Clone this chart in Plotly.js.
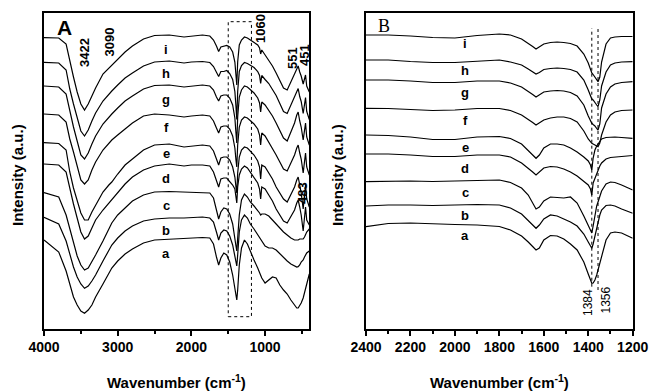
<!DOCTYPE html>
<html><head><meta charset="utf-8">
<script src="https://cdn.plot.ly/plotly-3.0.1.min.js"></script>
<style>html,body{margin:0;padding:0;background:#fff}#chart{width:650px;height:392px}</style>
</head><body><div id="chart"></div>
<script>
// ---------- Panel A: wavenumber grid (cm-1) ----------
const wnA = [4000,3800,3700,3650,3600,3550,3500,3450,3400,3350,3300,3200,3120,3080,3000,2900,2800,2650,2500,2300,2100,2000,1850,
  1750,1700,1660,1630,1600,1560,1520,1480,1440,1410,1395,1384,1372,1350,1320,1280,1240,1200,1150,1100,1075,1060,1045,1000,950,900,850,800,750,700,650,600,570,551,530,510,483,465,451,435,400];
// intensities (a.u., stacked with offset)
const specA_i = [292.3,292,286,268,253,238,226,220,226,234,242,256,262,265,271,278,284,291,294.5,295,293,294,295,294,290,284,278.5,283,284,284.5,283,278,268,255,245,268,285,290,293,292,290,288,285,282,276,280,275,270,264,257,250,242,240,248,257,262,264,258,254,246,251,255,244,238];
const specA_h = [267.7,267,260,241,226,212,199,194,200,209,217,229,236,239,245,252,257,264,268,269,267,268,268.5,267.5,263.5,257.5,253.5,258.5,258.5,259.5,256.5,250.5,238.5,223.5,210.5,238.5,258.5,264.5,267.5,266.5,264.5,262.5,258.5,254.5,246.5,254.5,250.5,246.5,240.5,234.5,226.5,218.5,216.5,224.5,232.5,238.5,241.5,233.5,228.5,216.5,226.5,232.5,218.5,210.5];
const specA_g = [244,243,236,218,203,189,175,171,177,186,194,206,213,216,222,229,234,241,244.5,245,243,244,245,244,240,233,229,234,235,235,232,225,212,197,187,213,233,240,244,243,240,237,232,227,218,228,225,220,214,207,200,192,189,198,207,215,218,209,203,190,201,207,193,185];
const specA_f = [216,215,208,191,178,165,150,146,150,160,168,180,187,190,195,201,207,214,216,215,213,214,215,214,209,202,197,203,204,204,201,194,182,170,163,185,203,210,213,212,209,206,201,195,185,197,194,188,182,175,168,161,159,167,175,182,185,177,171,157,170,177,163,155];
const specA_e = [187.3,186.5,180,158,142,129,117,110,110,118,125,138,145,148,156,165,171,180,185,186,183,184,185,184,179,171,165,172,173,173,170,163,153,143,137,157,173,180,183,182,179,175,169,163,151,165,163,157,151,143,137,131,128,135,143,150,153,145,137,121,137,145,131,123];
const specA_d = [166,165,158,141,126,112,98,91,94,102,110,120,127,130,138,146,153,160,164,166,164,165,165,164,158,150,143,151,152,152,149,145,141,133,127,143,155,161,164,162,158,153,147,141,131,143,141,135,129,121,115,109,107,113,120,127,130,123,115,99,115,123,110,105];
const specA_c = [137.3,133,115,102,87,74,65,60,62,68,75,89,101,107,115,122,129,135,138,138.5,138,138,138,137,132,120,111,118,122,121,116,106,94,84,79,90,115,130,136,133,128,124,120,117,115,116,116,114,110,106,101,98,95,92,90,90,90,91,91,91,93,96,98,101];
const specA_b = [112.7,106,89,76,63,53,46,41.7,44,49,55,69,79,85,92,99,104,109,111,112,112,112.5,113,112,108,98,90,97,100,99,94,85,75,67,64,75,98,110,115,112,106,101,95,92,90,89,84,82,82,80,76,72,69,66,64,63,63.3,65,68,70,73,75,77,79];
const specA_a = [90,78,59,46,33,25,19,16.7,20,25,33,46,57,62,69,76,81,87,90,91,92,92,92.5,92,86,73,65,72,77,75,68,55,42,33,30,40,65,82,90,86,78,70,62,58,55,52,47,50,53,52,45,40,36,30,25,22,22,24,27,32,37,41,45,56];

// ---------- Panel B ----------
const wnB = [2400,2300,2200,2100,2000,1900,1800,1750,1700,1670,1650,1635,1620,1600,1570,1540,1510,1480,1450,1420,1400,1390,1384,1378,1370,1362,1356,1348,1340,1320,1300,1280,1250,1200];
const specB_i = [295,295,294,292.5,292,294.5,296,295,291,287,283.5,281,283,286,287.5,288,287.5,286.5,284,276,267,260,257,255.5,253,250,248.3,253,268,286,292,293,293.5,293.5];
const specB_h = [270,270,268.5,267.5,267.5,269,270,268,265,261,258,256,257.5,260.5,261.5,262,261.5,260.5,258,250,240,234,231,230,228,225,223.3,230,244,258,265,267,268,268.3];
const specB_g = [250,250,249,247.5,247.5,249,249,247,243,239,235.5,233,235,238,239,239.5,239,237.5,234,225,214,209,206.7,205.5,204,201.5,200,206,222,236,243,246,247.5,248.3];
const specB_f = [221.7,221.5,220.5,219.5,220,221.5,221.5,219.5,215,211,207.5,205,207,210,212,213,213,211.5,208,199,191,188,186.7,186,185,184,183.3,187,195,208,215,218,219.5,220];
const specB_e = [195,194.5,193,190.5,190.5,193,193.5,191.5,186,180,175,171.7,175,182,186,186,185,182,178,173,169,165,160,172,180,184,186,189,191,192.5,193,193,192.5,191.7];
const specB_d = [176,176,175,173.5,173.5,175,175,173,167,162,158,155,158,162,163.5,163,161,158,154,149,145,141,135,147,152,157,160,164,167,171,172.5,173,174,174.5];
const specB_c = [148.3,149,149,148.5,149,150,150,147.5,142,135,127,121,123,129,133,132.5,132,133,127,114,105,100,97,104,116,124,128,134,139,146,148,147.5,145,140];
const specB_b = [124,125,125,124.5,125,125.5,125,122,116,110,105,101.7,105,111,115,114,111,108,104,96,88,84,81.7,86,94,102,108,115,120,124.5,125,124,121,116.7];
const specB_a = [103.3,106.5,107,106,105.5,105,103.5,100,94,88,83,80,82,90,94.5,94,91,86,80,68,56,50,46.7,47,50,55,60,68,76,90,97,98,97,91.7];

const curveNames = ['a','b','c','d','e','f','g','h','i'];
const specA = {a:specA_a,b:specA_b,c:specA_c,d:specA_d,e:specA_e,f:specA_f,g:specA_g,h:specA_h,i:specA_i};
const specB = {a:specB_a,b:specB_b,c:specB_c,d:specB_d,e:specB_e,f:specB_f,g:specB_g,h:specB_h,i:specB_i};

const FONT = 'Liberation Sans, Arial, Helvetica, sans-serif';
const traces = [];
curveNames.forEach(n => {
  traces.push({x: wnA, y: specA[n], xaxis:'x', yaxis:'y', mode:'lines', name:n,
    line:{color:'#000', width:1.2}, showlegend:false, hoverinfo:'skip'});
  traces.push({x: wnB, y: specB[n], xaxis:'x2', yaxis:'y2', mode:'lines', name:n,
    line:{color:'#000', width:1.2}, showlegend:false, hoverinfo:'skip'});
});

const W = 650, H = 392;
const px = v => v / W, py = v => 1 - v / H;
const ydom = [py(328.5), py(12.5)];

function ann(text, x, y, size, opts) {
  return Object.assign({text, x: px(x), y: py(y), xref:'paper', yref:'paper', showarrow:false,
    xanchor:'center', yanchor:'middle', font:{family:FONT, size, color:'#000'}}, opts || {});
}

const labA = {i:50, h:74, g:100, f:127, e:154, d:178, c:205, b:230, a:253};
const labB = {i:43, h:70, g:92, f:120, e:147, d:168, c:192, b:215, a:235};
const annotations = [];
curveNames.forEach(n => {
  annotations.push(ann('<b>'+n+'</b>', 166, labA[n], 13));
  annotations.push(ann('<b>'+n+'</b>', 465, labB[n], 13));
});
annotations.push(ann('<b>A</b>', 64.5, 27.5, 21));
annotations.push(ann('B', 384, 26, 18, {font:{family:'Liberation Serif, Times New Roman, serif', size:18, color:'#000'}}));
[['3422',84,53],['3090',109,42.5],['1060',260,29],['551',292,58],['451',305,55],['483',302,193]].forEach(t => {
  annotations.push(ann('<b>'+t[0]+'</b>', t[1], t[2], 13, {textangle:-90}));
});
annotations.push(ann('1384', 587.5, 302.5, 12, {textangle:-90}));
annotations.push(ann('1356', 605.5, 300, 12, {textangle:-90}));
annotations.push(ann('<b>Intensity (a.u.)</b>', 17, 175, 15, {textangle:-90}));
annotations.push(ann('<b>Intensity (a.u.)</b>', 337, 175, 15, {textangle:-90}));
annotations.push(ann('<b>Wavenumber (cm<sup>-1</sup>)</b>', 176.5, 381, 15));
annotations.push(ann('<b>Wavenumber (cm<sup>-1</sup>)</b>', 499.5, 381, 15));

const xcommon = {showline:true, mirror:true, linecolor:'#000', linewidth:2, showgrid:false, zeroline:false,
  ticks:'outside', ticklen:5, tickwidth:2, tickcolor:'#000',
  tickfont:{family:FONT, size:14, color:'#000', weight:'bold'}};
const ycommon = {showline:true, mirror:true, linecolor:'#000', linewidth:2, showgrid:false, zeroline:false,
  ticks:'', showticklabels:false, range:[1.5,317.5], domain:ydom};

const layout = {
  width:W, height:H, margin:{l:0,r:0,t:0,b:0}, paper_bgcolor:'#fff', plot_bgcolor:'#fff',
  xaxis: Object.assign({}, xcommon, {domain:[px(44), px(309.3)], range:[4000,400], anchor:'y',
    tickvals:[4000,3000,2000,1000], minor:{tickvals:[3500,2500,1500,500], ticks:'outside', ticklen:3, tickwidth:2, tickcolor:'#000'}}),
  yaxis: Object.assign({}, ycommon, {anchor:'x'}),
  xaxis2: Object.assign({}, xcommon, {domain:[px(366), px(632.7)], range:[2400,1200], anchor:'y2',
    tickvals:[2400,2200,2000,1800,1600,1400,1200], minor:{tickvals:[2300,2100,1900,1700,1500,1300], ticks:'outside', ticklen:3, tickwidth:2, tickcolor:'#000'}}),
  yaxis2: Object.assign({}, ycommon, {anchor:'x2'}),
  shapes: [
    {type:'rect', xref:'x', yref:'y', x0:1500, x1:1185, y0:13.3, y1:308.3, line:{color:'#000', width:1, dash:'dot'}},
    {type:'line', xref:'x2', yref:'y2', x0:1384, x1:1384, y0:43.3, y1:301.7, line:{color:'#000', width:1, dash:'dot'}},
    {type:'line', xref:'x2', yref:'y2', x0:1356, x1:1356, y0:40, y1:301.7, line:{color:'#000', width:1, dash:'dot'}}
  ],
  annotations
};
Plotly.newPlot('chart', traces, layout, {staticPlot:true, displayModeBar:false});
</script></body></html>
